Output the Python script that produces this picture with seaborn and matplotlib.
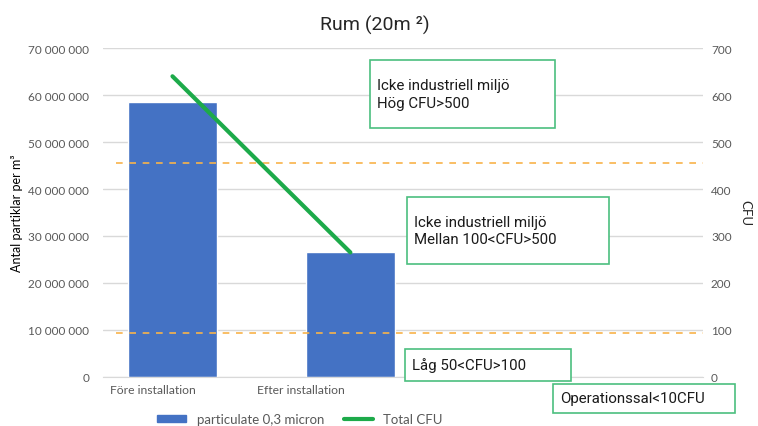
import numpy as np
import pandas as pd
import matplotlib
matplotlib.use('Agg')
import matplotlib.pyplot as plt
import matplotlib.transforms as mtransforms
from matplotlib.patches import Rectangle
import seaborn as sns

# data
kategorier = ['Före installation', 'Efter installation']
partiklar = [58500000, 26600000]
cfu = [640, 265]
gransvarden_cfu = [455, 94]
yticks_left = [0, 10000000, 20000000, 30000000, 40000000, 50000000, 60000000, 70000000]
yticks_right = [0, 100, 200, 300, 400, 500, 600, 700]

sns.set_style('white')
plt.rcParams['font.family'] = ['Lato', 'DejaVu Sans']

df = pd.DataFrame({'kategori': kategorier, 'partiklar': partiklar, 'cfu': cfu})

fig = plt.figure(figsize=(7.58, 4.27), dpi=100)
ax = fig.add_axes([0.136, 0.115, 0.791, 0.77])
ax2 = ax.twinx()

sns.barplot(data=df, x='kategori', y='partiklar', color='#4472C4', width=0.5,
            saturation=1, ax=ax, zorder=2)
ax.set_ylim(0, 70000000)
ax.set_xlim(-0.39, 2.98)
ax.set_yticks(yticks_left)
ax.set_yticklabels([f'{v:,}'.replace(',', ' ') for v in yticks_left], color='#595959', fontsize=8.5)
ax.set_xticks(range(len(kategorier)))
ax.set_xticklabels(kategorier, color='#595959', fontsize=8.7)
ax.set_xlabel('')
ax.set_ylabel('Antal partiklar per m³', fontsize=9, color='black', labelpad=4)
ax.grid(axis='y', color='#D9D9D9', lw=1, zorder=0)
ax.tick_params(axis='y', length=0, pad=10)
ax.tick_params(axis='x', length=0, pad=5)
for s in ax.spines.values():
    s.set_visible(False)
ax.spines['bottom'].set_visible(True)
ax.spines['bottom'].set_color('#D9D9D9')

# Excel placed the category labels left of the bar centres
for lbl, dx in zip(ax.get_xticklabels(), [-20, -50]):
    lbl.set_transform(lbl.get_transform() + mtransforms.ScaledTranslation(dx / 100, 0, fig.dpi_scale_trans))

pos = np.arange(len(kategorier))
sns.lineplot(x=pos, y=cfu, color='#1DAA4A', lw=3, ax=ax2, zorder=3)
for g in gransvarden_cfu:
    ax2.plot([-0.32, 2.98], [g, g], ls=(0, (4, 4)), color='#F8B34A', lw=1.2, zorder=1)
ax2.set_ylim(0, 700)
ax2.set_yticks(yticks_right)
ax2.set_yticklabels([str(v) for v in yticks_right], color='#595959', fontsize=8.5)
ax2.tick_params(axis='y', length=0, pad=6)
ax2.set_ylabel('CFU', rotation=270, fontsize=9.5, labelpad=14)
for s in ax2.spines.values():
    s.set_visible(False)

fig.text(0.495, 0.94, 'Rum (20m ²)', ha='center', va='center', fontsize=14,
         family=['Roboto', 'DejaVu Sans'], color='#262626')

# text boxes (pixel positions in figure)
W, H = 758, 427
boxes = [
    ((370, 61, 185, 68), 'Icke industriell miljö\nHög CFU>500'),
    ((407, 198, 202, 67), 'Icke industriell miljö\nMellan 100<CFU>500'),
    ((405, 350, 166, 32), 'Låg 50<CFU>100'),
    ((553, 385, 182, 29), 'Operationssal<10CFU'),
]
for (x, y, w, h), txt in boxes:
    fig.patches.append(Rectangle((x / W, 1 - (y + h) / H), w / W, h / H,
                                 transform=fig.transFigure, facecolor='white',
                                 edgecolor='#4CBF7F', lw=1.2, zorder=5))
    fig.text((x + 7) / W, 1 - (y + h / 2) / H, txt, ha='left', va='center',
             fontsize=10.8, linespacing=1.3, zorder=6,
             family=['Roboto', 'DejaVu Sans'], color='#1a1a1a')

handles = [Rectangle((0, 0), 1, 1, color='#4472C4'),
           plt.Line2D([0], [0], color='#1DAA4A', lw=3)]
fig.legend(handles, ['particulate 0,3 micron', 'Total CFU'], loc='center',
           bbox_to_anchor=(300 / W, 1 - 420 / H), ncol=2, frameon=False,
           fontsize=9.5, handlelength=2.2, handleheight=0.5, columnspacing=1.5,
           labelcolor='#595959')

fig.savefig('out.png', dpi=100)
